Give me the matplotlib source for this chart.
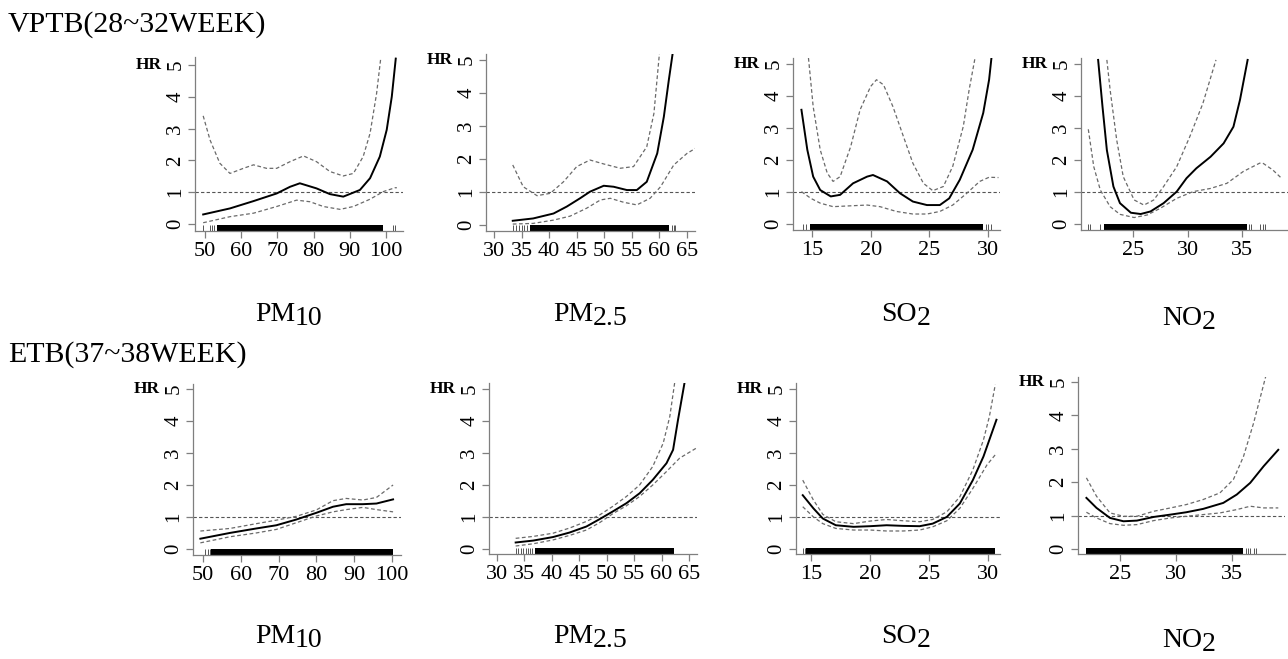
import matplotlib.pyplot as plt

plt.rcParams['font.family'] = ['Liberation Serif', 'DejaVu Serif']

# ---- VPTB (28~32 week) ----
vptb_pm10_x = [49.5, 56.9, 63.4, 69.8, 73.5, 76.2, 80.8, 84.5, 88.2, 92.8, 95.6, 98.3, 100.2, 101.6, 102.7]
vptb_pm10_hr = [0.30, 0.49, 0.72, 0.96, 1.17, 1.28, 1.12, 0.94, 0.86, 1.07, 1.44, 2.12, 2.96, 4.0, 5.2]
vptb_pm10_up_x = [49.5, 51.4, 54.1, 56.9, 60.6, 63.4, 67.0, 69.8, 73.5, 77.2, 80.8, 84.5, 88.2, 91.0, 93.7, 95.6, 97.4, 98.5]
vptb_pm10_up = [3.40, 2.64, 1.91, 1.59, 1.75, 1.86, 1.75, 1.75, 1.96, 2.14, 1.96, 1.65, 1.51, 1.59, 2.12, 2.85, 4.1, 5.16]
vptb_pm10_lo_x = [49.5, 56.9, 63.4, 69.8, 75.3, 79.0, 82.7, 87.3, 91.0, 95.6, 99.3, 102.5, 103.0]
vptb_pm10_lo = [0.04, 0.23, 0.34, 0.55, 0.75, 0.70, 0.55, 0.46, 0.55, 0.78, 1.02, 1.14, 1.14]
vptb_pm10_rug = (53.4, 99.3)
vptb_pm10_rug_extra = [49.5, 51.5, 52.0, 52.6, 102.0, 102.4]

vptb_pm25_x = [33.4, 37.1, 40.8, 43.2, 45.6, 47.4, 49.9, 51.7, 54.1, 55.9, 57.7, 59.6, 60.8, 61.7, 62.4]
vptb_pm25_hr = [0.13, 0.20, 0.35, 0.56, 0.81, 1.01, 1.19, 1.16, 1.06, 1.06, 1.31, 2.17, 3.28, 4.39, 5.2]
vptb_pm25_up_x = [33.4, 35.3, 37.8, 40.2, 42.6, 45.0, 47.4, 49.9, 52.9, 55.3, 57.7, 59.0, 60.0]
vptb_pm25_up = [1.82, 1.16, 0.89, 0.96, 1.31, 1.77, 1.97, 1.85, 1.72, 1.77, 2.37, 3.38, 5.2]
vptb_pm25_lo_x = [33.4, 37.1, 40.8, 43.8, 46.8, 49.3, 51.1, 53.5, 55.9, 58.3, 60.2, 62.6, 65.0, 66.5]
vptb_pm25_lo = [0.03, 0.05, 0.15, 0.27, 0.51, 0.76, 0.81, 0.69, 0.61, 0.81, 1.16, 1.82, 2.17, 2.32]
vptb_pm25_rug = (36.5, 61.7)
vptb_pm25_rug_extra = [33.5, 34.0, 34.6, 35.0, 35.5, 35.9, 62.2, 62.6, 62.9]

vptb_so2_x = [14.1, 14.6, 15.1, 15.7, 16.6, 17.4, 18.5, 19.7, 20.2, 21.4, 22.5, 23.6, 24.8, 25.9, 26.7, 27.6, 28.7, 29.6, 30.1, 30.3]
vptb_so2_hr = [3.57, 2.32, 1.48, 1.06, 0.86, 0.91, 1.27, 1.48, 1.53, 1.33, 0.96, 0.70, 0.59, 0.59, 0.80, 1.38, 2.32, 3.47, 4.51, 5.19]
vptb_so2_up_x = [14.7, 15.1, 15.7, 16.3, 16.8, 17.4, 18.3, 19.1, 20.0, 20.5, 21.1, 21.9, 22.8, 23.6, 24.5, 25.3, 26.2, 27.0, 27.9, 28.4, 28.9]
vptb_so2_up = [5.19, 3.67, 2.32, 1.59, 1.33, 1.48, 2.42, 3.57, 4.30, 4.51, 4.35, 3.67, 2.73, 1.90, 1.27, 1.04, 1.17, 1.80, 3.05, 4.20, 5.19]
vptb_so2_lo_x = [14.1, 14.9, 15.7, 16.8, 18.5, 19.7, 20.8, 22.2, 23.6, 24.8, 25.9, 27.0, 28.2, 29.3, 30.1, 30.9]
vptb_so2_lo = [1.01, 0.80, 0.65, 0.54, 0.57, 0.59, 0.54, 0.39, 0.31, 0.31, 0.39, 0.59, 0.96, 1.33, 1.46, 1.45]
vptb_so2_rug = (14.8, 29.6)
vptb_so2_rug_extra = [14.2, 14.5, 29.8, 30.0, 30.3]

vptb_no2_x = [21.8, 22.2, 22.6, 23.2, 23.8, 24.8, 25.7, 26.6, 27.8, 29.0, 29.9, 30.8, 32.1, 33.3, 34.2, 34.8, 35.5]
vptb_no2_hr = [5.13, 3.67, 2.31, 1.17, 0.65, 0.35, 0.31, 0.39, 0.65, 1.01, 1.43, 1.74, 2.10, 2.52, 3.04, 3.88, 5.13]
vptb_no2_up_x = [22.6, 22.9, 23.5, 24.1, 25.1, 26.0, 26.9, 27.8, 29.0, 30.2, 31.4, 32.6]
vptb_no2_up = [5.13, 4.19, 2.63, 1.48, 0.75, 0.59, 0.75, 1.17, 1.79, 2.73, 3.77, 5.13]
vptb_no2_lo_x = [20.9, 21.4, 22.0, 22.9, 23.8, 25.1, 26.3, 27.5, 29.0, 30.5, 32.1, 33.6, 35.1, 36.6, 36.9, 37.8, 38.6]
vptb_no2_lo = [2.96, 1.79, 1.06, 0.54, 0.30, 0.20, 0.28, 0.49, 0.80, 1.01, 1.11, 1.27, 1.64, 1.90, 1.90, 1.69, 1.43]
vptb_no2_rug = (22.3, 35.4)
vptb_no2_rug_extra = [20.9, 21.1, 22.0, 35.6, 35.8, 36.6, 36.9, 37.1]

# ---- ETB (37~38 week) ----
etb_pm10_x = [49.3, 57.1, 64.1, 69.4, 74.7, 80.0, 84.4, 87.9, 92.3, 95.9, 100.3]
etb_pm10_hr = [0.32, 0.50, 0.64, 0.74, 0.92, 1.13, 1.32, 1.40, 1.40, 1.42, 1.55]
etb_pm10_up_x = [49.3, 57.1, 64.1, 69.4, 74.7, 80.0, 84.4, 87.9, 92.3, 95.9, 98.5, 100.3]
etb_pm10_up = [0.56, 0.64, 0.79, 0.90, 1.02, 1.22, 1.51, 1.58, 1.53, 1.61, 1.84, 2.00]
etb_pm10_lo_x = [49.3, 57.1, 64.1, 69.4, 74.7, 80.0, 84.4, 87.9, 92.3, 95.9, 100.3]
etb_pm10_lo = [0.19, 0.38, 0.50, 0.61, 0.82, 1.03, 1.16, 1.23, 1.30, 1.23, 1.16]
etb_pm10_rug = (52.2, 100.3)
etb_pm10_rug_extra = [50.5, 51.3, 51.8]

etb_pm25_x = [33.4, 36.6, 40.2, 43.2, 46.3, 48.7, 51.1, 53.6, 56.0, 58.4, 60.9, 62.1, 63.0, 64.2]
etb_pm25_hr = [0.20, 0.26, 0.37, 0.51, 0.70, 0.93, 1.17, 1.43, 1.74, 2.16, 2.68, 3.10, 4.04, 5.21]
etb_pm25_up_x = [33.4, 36.6, 40.2, 43.2, 46.3, 48.7, 51.1, 53.6, 56.0, 58.4, 60.3, 61.5, 62.4]
etb_pm25_up = [0.33, 0.39, 0.49, 0.65, 0.86, 1.06, 1.33, 1.64, 2.00, 2.58, 3.31, 4.14, 5.21]
etb_pm25_lo_x = [33.4, 36.6, 40.2, 43.2, 46.3, 48.7, 51.1, 53.6, 56.0, 58.4, 60.9, 63.3, 66.6]
etb_pm25_lo = [0.09, 0.16, 0.28, 0.42, 0.59, 0.82, 1.10, 1.35, 1.64, 2.00, 2.42, 2.84, 3.18]
etb_pm25_rug = (36.9, 62.2)
etb_pm25_rug_extra = [33.4, 33.8, 34.3, 34.8, 35.2, 35.6, 36.0, 36.4]

etb_so2_x = [14.3, 15.2, 16.0, 17.1, 18.6, 20.0, 21.4, 22.8, 24.2, 25.3, 26.5, 27.6, 28.7, 29.6, 30.7]
etb_so2_hr = [1.68, 1.27, 0.95, 0.74, 0.69, 0.71, 0.74, 0.72, 0.71, 0.79, 1.00, 1.42, 2.15, 2.89, 4.04]
etb_so2_up_x = [14.3, 15.2, 16.0, 17.1, 18.6, 20.0, 21.4, 22.8, 24.2, 25.3, 26.5, 27.6, 28.7, 29.6, 30.1, 30.6]
etb_so2_up = [2.15, 1.53, 1.08, 0.85, 0.79, 0.87, 0.92, 0.88, 0.85, 0.92, 1.16, 1.63, 2.47, 3.41, 4.14, 5.14]
etb_so2_lo_x = [14.3, 15.2, 16.0, 17.1, 18.6, 20.0, 21.4, 22.8, 24.2, 25.3, 26.5, 27.6, 28.7, 29.9, 30.7]
etb_so2_lo = [1.32, 1.00, 0.79, 0.64, 0.59, 0.59, 0.56, 0.56, 0.59, 0.69, 0.88, 1.27, 1.89, 2.63, 2.99]
etb_so2_rug = (14.6, 30.6)
etb_so2_rug_extra = [14.3, 14.45]

etb_no2_x = [22.0, 22.9, 24.1, 25.3, 26.5, 28.0, 29.5, 30.9, 32.4, 34.2, 35.4, 36.6, 37.8, 39.1]
etb_no2_hr = [1.53, 1.23, 0.93, 0.83, 0.85, 0.96, 1.03, 1.10, 1.20, 1.38, 1.63, 1.98, 2.48, 2.97]
etb_no2_up_x = [22.0, 22.9, 24.1, 25.3, 26.5, 28.0, 29.5, 30.9, 32.4, 33.9, 35.1, 36.0, 36.9, 38.0]
etb_no2_up = [2.13, 1.58, 1.08, 0.98, 0.98, 1.13, 1.23, 1.33, 1.48, 1.68, 2.08, 2.77, 3.77, 5.19]
etb_no2_lo_x = [22.0, 22.9, 24.1, 25.3, 26.5, 28.0, 29.5, 30.9, 32.4, 33.9, 35.4, 36.6, 37.8, 39.1]
etb_no2_lo = [1.10, 0.93, 0.76, 0.71, 0.73, 0.85, 0.93, 0.98, 1.03, 1.08, 1.18, 1.28, 1.23, 1.23]
etb_no2_rug = (22.0, 36.0)
etb_no2_rug_extra = [36.2, 36.4, 36.6, 36.9, 37.1]

pm10_ticks = [50, 60, 70, 80, 90, 100]
pm25_ticks = [30, 35, 40, 45, 50, 55, 60, 65]
so2_ticks = [15, 20, 25, 30]
no2_ticks = [25, 30, 35]
hr_ticks = [0, 1, 2, 3, 4, 5]

W, H = 1288, 659
fig = plt.figure(figsize=(W / 100, H / 100), dpi=100)

# panel boxes in pixels: left, bottom, right, top
panels = [
    ((195, 231, 403, 57), (47.24, 104.7), (-0.22, 5.25), pm10_ticks,
     vptb_pm10_x, vptb_pm10_hr, vptb_pm10_up_x, vptb_pm10_up, vptb_pm10_lo_x, vptb_pm10_lo, vptb_pm10_rug, vptb_pm10_rug_extra),
    ((486, 231, 695, 54), (28.55, 66.45), (-0.18, 5.18), pm25_ticks,
     vptb_pm25_x, vptb_pm25_hr, vptb_pm25_up_x, vptb_pm25_up, vptb_pm25_lo_x, vptb_pm25_lo, vptb_pm25_rug, vptb_pm25_rug_extra),
    ((793, 230, 1000, 58), (13.38, 31.03), (-0.19, 5.19), so2_ticks,
     vptb_so2_x, vptb_so2_hr, vptb_so2_up_x, vptb_so2_up, vptb_so2_lo_x, vptb_so2_lo, vptb_so2_rug, vptb_so2_rug_extra),
    ((1081, 230, 1288, 58), (20.23, 39.2), (-0.19, 5.19), no2_ticks,
     vptb_no2_x, vptb_no2_hr, vptb_no2_up_x, vptb_no2_up, vptb_no2_lo_x, vptb_no2_lo, vptb_no2_rug, vptb_no2_rug_extra),
    ((193, 555, 401, 384), (47.35, 102.4), (-0.19, 5.16), pm10_ticks,
     etb_pm10_x, etb_pm10_hr, etb_pm10_up_x, etb_pm10_up, etb_pm10_lo_x, etb_pm10_lo, etb_pm10_rug, etb_pm10_rug_extra),
    ((489, 554, 697, 383), (28.54, 66.46), (-0.16, 5.19), pm25_ticks,
     etb_pm25_x, etb_pm25_hr, etb_pm25_up_x, etb_pm25_up, etb_pm25_lo_x, etb_pm25_lo, etb_pm25_rug, etb_pm25_rug_extra),
    ((796, 554, 1000, 383), (13.73, 31.0), (-0.16, 5.19), so2_ticks,
     etb_so2_x, etb_so2_hr, etb_so2_up_x, etb_so2_up, etb_so2_lo_x, etb_so2_lo, etb_so2_rug, etb_so2_rug_extra),
    ((1078, 554, 1285, 377), (21.25, 39.7), (-0.15, 5.15), no2_ticks,
     etb_no2_x, etb_no2_hr, etb_no2_up_x, etb_no2_up, etb_no2_lo_x, etb_no2_lo, etb_no2_rug, etb_no2_rug_extra),
]

axis_grey = '#7f7f7f'
ci_grey = '#6a6a6a'

for (box, xlim, ylim, xt, fx_, fy_, ux, uy, lx, ly, rug, rug_extra) in panels:
    l, b, r, t = box
    ax = fig.add_axes([l / W, 1 - b / H, (r - l) / W, (b - t) / H])
    ax.set_xlim(*xlim)
    ax.set_ylim(*ylim)
    for s in ['top', 'right']:
        ax.spines[s].set_visible(False)
    for s in ['left', 'bottom']:
        ax.spines[s].set_color(axis_grey)
        ax.spines[s].set_linewidth(0.9)
    ax.set_xticks(xt)
    ax.set_yticks(hr_ticks)
    ax.tick_params(direction='out', length=5, width=0.9, color=axis_grey, pad=3)
    ax.tick_params(axis='x', labelsize=16)
    ax.tick_params(axis='y', labelsize=15, labelrotation=90, pad=2)
    for lab in ax.get_yticklabels():
        lab.set_va('center')

    ax.axhline(1, color='#555555', lw=0.8, ls=(0, (3, 2)))
    ax.plot(ux, uy, color=ci_grey, lw=0.9, ls=(0, (3, 2)))
    ax.plot(lx, ly, color=ci_grey, lw=0.9, ls=(0, (3, 2)))
    ax.plot(fx_, fy_, color='black', lw=1.4)

    # rug of exposure values along the x axis
    ax.axvspan(rug[0], rug[1], ymin=0, ymax=0.035, color='black', lw=0)
    ax.vlines(rug_extra, 0, 0.035, transform=ax.get_xaxis_transform(), colors='#555555', lw=0.7)

    ax.annotate('HR', xy=(0, 5), xycoords=ax.get_yaxis_transform(),
                xytext=(-59 * 0.72, 0), textcoords='offset points',
                ha='left', va='center', fontsize=12.5, fontweight='bold')


def px(x, y):
    return x / W, 1 - y / H


def sub_label(jx, by, base, sub):
    fig.text(*px(jx, by), base, ha='right', va='baseline', fontsize=20)
    fig.text(*px(jx, by + 4), sub, ha='left', va='baseline', fontsize=20)


fig.text(*px(8, 32), 'VPTB(28~32WEEK)', ha='left', va='baseline', fontsize=21.5)
fig.text(*px(8, 362), 'ETB(37~38WEEK)', ha='left', va='baseline', fontsize=21.5)

for dy in [0, 322]:
    sub_label(295, 321 + dy, 'PM', '10')
    sub_label(593, 321 + dy, 'PM', '2.5')
    sub_label(917, 321 + dy, 'SO', '2')
    sub_label(1202, 325 + dy, 'NO', '2')

fig.savefig('out.png', dpi=100)
